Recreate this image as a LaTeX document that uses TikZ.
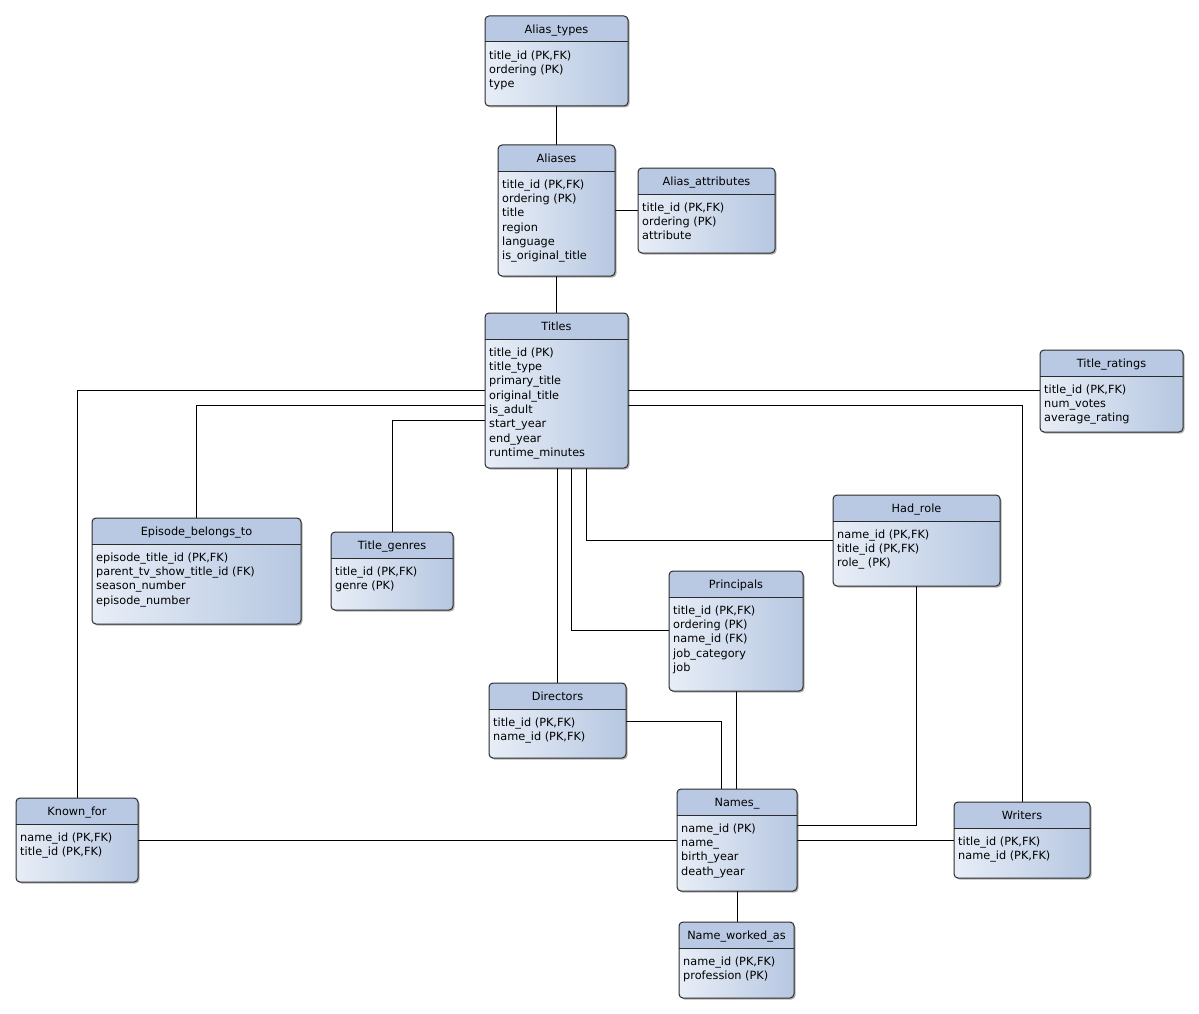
\documentclass[tikz,border=0pt]{standalone}
\usepackage{fontspec}
\setmainfont{DejaVu Sans}
\usetikzlibrary{fit,shadows,backgrounds}
\definecolor{hdr}{HTML}{B9C9E3}
\definecolor{bodyL}{HTML}{E8EEF7}
\definecolor{bodyR}{HTML}{B6C7E1}
\definecolor{edge}{HTML}{2B2B2B}
\tikzset{
  tbox/.style={rectangle, rounded corners=4pt, inner sep=0pt, outer sep=0pt,
    left color=bodyL, right color=bodyR,
    drop shadow={shadow xshift=1.5pt, shadow yshift=-1.5pt, opacity=0.3, fill=black}},
  tborder/.style={draw=edge, line width=1pt, rounded corners=4pt},
  tsep/.style={draw=edge, line width=1pt},
  ttitle/.style={font=\fontsize{11.3}{13}\selectfont, inner sep=0pt, anchor=base},
  tfields/.style={font=\fontsize{11.3}{14.3}\selectfont, inner sep=0pt, align=left, anchor=north west},
  link/.style={draw=black, line width=1pt},
}
% #1 name, #2 x1, #3 y1, #4 x2, #5 y2, #6 title, #7 fields
\newcommand\ertable[7]{%
  \node[tbox, fit={(#2,#3) (#4,#5)}] (#1) {};
  \begin{scope}
    \clip[rounded corners=4pt] (#1.north west) rectangle (#1.south east);
    \fill[hdr] (#1.north west) rectangle ([yshift=-26pt]#1.north east);
  \end{scope}
  \draw[tsep] ([yshift=-26pt]#1.north west) -- ([yshift=-26pt]#1.north east);
  \draw[tborder] (#1.north west) rectangle (#1.south east);
  \node[ttitle] (#1-t) at ([yshift=-17.5pt]#1.north) {#6};
  \node[tfields] (#1-f) at ([xshift=4pt,yshift=-34.5pt]#1.north west) {#7};
}
\begin{document}
\begin{tikzpicture}[x=1pt, y=-1pt]
\useasboundingbox (0,0) rectangle (1199,1014);

\ertable{aliastypes}{485}{16}{628}{106}{Alias\_types}{title\_id (PK,FK)\\ordering (PK)\\type}
\ertable{aliases}{498}{145}{615}{276}{Aliases}{title\_id (PK,FK)\\ordering (PK)\\title\\region\\language\\is\_original\_title}
\ertable{aliasattr}{638}{168}{775}{253}{Alias\_attributes}{title\_id (PK,FK)\\ordering (PK)\\attribute}
\ertable{titles}{485}{313}{628}{468}{Titles}{title\_id (PK)\\title\_type\\primary\_title\\original\_title\\is\_adult\\start\_year\\end\_year\\runtime\_minutes}
\ertable{ratings}{1040}{350}{1183}{432}{Title\_ratings}{title\_id (PK,FK)\\num\_votes\\average\_rating}
\ertable{episode}{92}{518}{301}{624}{Episode\_belongs\_to}{episode\_title\_id (PK,FK)\\parent\_tv\_show\_title\_id (FK)\\season\_number\\episode\_number}
\ertable{genres}{331}{532}{453}{610}{Title\_genres}{title\_id (PK,FK)\\genre (PK)}
\ertable{hadrole}{833}{495}{1000}{586}{Had\_role}{name\_id (PK,FK)\\title\_id (PK,FK)\\role\_ (PK)}
\ertable{principals}{669}{571}{803}{691}{Principals}{title\_id (PK,FK)\\ordering (PK)\\name\_id (FK)\\job\_category\\job}
\ertable{directors}{489}{683}{626}{758}{Directors}{title\_id (PK,FK)\\name\_id (PK,FK)}
\ertable{knownfor}{16}{798}{138}{882}{Known\_for}{name\_id (PK,FK)\\title\_id (PK,FK)}
\ertable{names}{677}{789}{797}{891}{Names\_}{name\_id (PK)\\name\_\\birth\_year\\death\_year}
\ertable{writers}{954}{802}{1090}{878}{Writers}{title\_id (PK,FK)\\name\_id (PK,FK)}
\ertable{workedas}{679}{922}{794}{998}{Name\_worked\_as}{name\_id (PK,FK)\\profession (PK)}

\begin{scope}[on background layer]
\fill[white] (0,0) rectangle (1199,1014);
\draw[link] (aliastypes.south) -- (aliases.north);
\draw[link] (aliases.east |- 0,210) -- (aliasattr.west |- 0,210);
\draw[link] (aliases.south) -- (titles.north);
\draw[link] (titles.east |- 0,390) -- (ratings.west |- 0,390);
\draw[link] (titles.east |- 0,405) -| (writers.north);
\draw[link] (titles.west |- 0,390) -| (knownfor.north);
\draw[link] (titles.west |- 0,405) -| (episode.north);
\draw[link] (titles.west |- 0,420) -| (genres.north);
\draw[link] (titles.south -| directors.north) -- (directors.north);
\draw[link] (titles.south -| 571,0) |- (principals.west |- 0,630);
\draw[link] (titles.south -| 586,0) |- (hadrole.west |- 0,540);
\draw[link] (directors.east |- 0,721) -| (names.north -| 721,0);
\draw[link] (principals.south -| 736,0) -- (names.north -| 736,0);
\draw[link] (hadrole.south -| 916,0) |- (names.east |- 0,825);
\draw[link] (knownfor.east |- 0,840) -- (names.west |- 0,840);
\draw[link] (names.east |- 0,840) -- (writers.west |- 0,840);
\draw[link] (names.south) -- (workedas.north -| names.south);
\end{scope}
\end{tikzpicture}
\end{document}
